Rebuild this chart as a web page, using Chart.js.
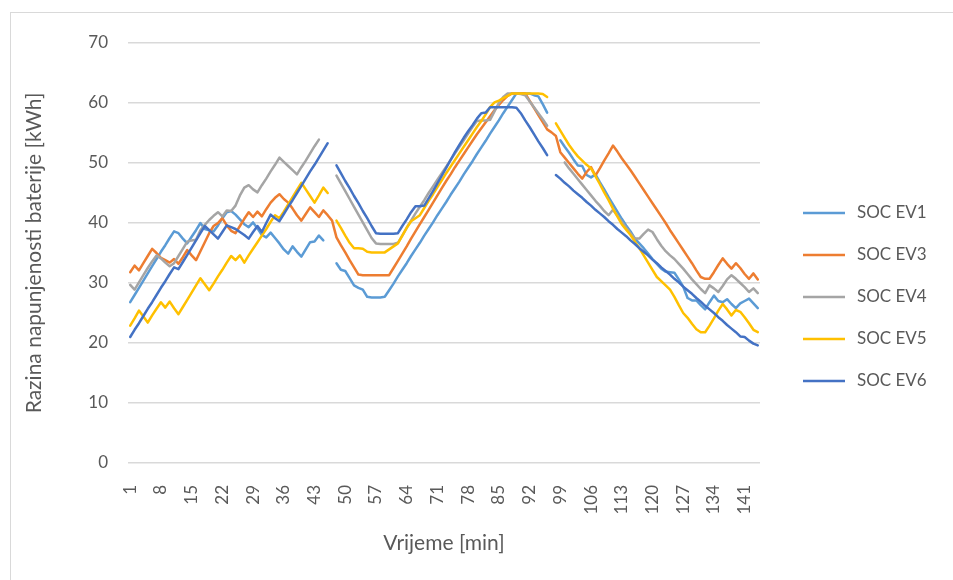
<!DOCTYPE html>
<html>
<head>
<meta charset="utf-8">
<script src="https://cdn.jsdelivr.net/npm/chart.js@4.4.0/dist/chart.umd.min.js"></script>
<style>
  html, body { margin: 0; padding: 0; background: #fff; }
  #wrap { position: relative; width: 953px; height: 580px; overflow: hidden; }
  #frame { position: absolute; left: 10px; top: 12px; width: 960px; height: 600px; border: 1px solid #d9d9d9; }
  canvas { position: absolute; left: 0; top: 0; }
</style>
</head>
<body>
<div id="wrap">
  <div id="frame"></div>
  <canvas id="chart-soc" width="953" height="580"></canvas>
</div>
<script>
// minutes 1..144
var minutes = Array.from({ length: 144 }, (_, i) => String(i + 1));
var tickLabels = ['1', '8', '15', '22', '29', '36', '43', '50', '57', '64', '71',
  '78', '85', '92', '99', '106', '113', '120', '127', '134', '141'];

var socEV1 = [
  26.8, 28.0, 29.2, 30.4, 31.6, 32.8, 34.0, 35.2, 36.3, 37.5,
  38.6, 38.3, 37.4, 36.6, 37.7, 38.8, 40.0, 39.0, 38.8, 38.6,
  39.6, 40.8, 41.8, 42.0, 41.4, 40.6, 39.8, 39.3, 40.1, 39.1,
  38.0, 37.6, 38.4, 37.5, 36.6, 35.6, 34.9, 36.1, 35.2, 34.4,
  35.6, 36.8, 36.9, 37.9, 37.1, null, null, 33.3, 32.2, 32.0,
  30.8, 29.6, 29.2, 28.9, 27.7, 27.6, 27.6, 27.6, 27.7, 28.8,
  29.9, 31.1, 32.2, 33.3, 34.5, 35.6, 36.7, 37.9, 39.0, 40.1,
  41.3, 42.4, 43.5, 44.7, 45.8, 46.9, 48.1, 49.2, 50.3, 51.5,
  52.6, 53.7, 54.9, 56.0, 57.1, 58.3, 59.4, 60.5, 61.6, 61.6,
  61.6, 61.6, 61.3, 61.1, 59.8, 58.4, null, null, 53.8, 52.7,
  51.7, 50.6, 49.6, 49.5, 48.0, 47.6, 48.1, 46.8, 45.6, 44.3,
  43.1, 41.9, 40.7, 39.6, 38.6, 37.4, 36.6, 35.8, 34.9, 34.0,
  33.2, 32.4, 31.9, 31.8, 31.7, 30.6, 29.4, 27.5, 27.1, 27.1,
  26.3, 25.6, 26.8, 27.9, 27.0, 26.8, 27.3, 26.5, 25.8, 26.6,
  27.0, 27.4, 26.6, 25.8
];

var socEV3 = [
  31.8, 32.9, 32.1, 33.3, 34.5, 35.7, 35.0, 34.2, 33.8, 33.4,
  34.0, 33.2, 34.3, 35.5, 34.6, 33.8, 35.3, 36.8, 38.3, 39.5,
  40.0, 40.8, 39.6, 38.7, 38.3, 39.5, 40.7, 41.8, 41.0, 41.9,
  41.1, 42.3, 43.4, 44.2, 44.8, 44.0, 43.4, 42.4, 41.3, 40.4,
  41.5, 42.6, 41.8, 41.0, 42.1, 41.3, 40.4, 37.6, 36.3, 35.1,
  33.8, 32.6, 31.4, 31.3, 31.3, 31.3, 31.3, 31.3, 31.3, 31.3,
  32.5, 33.7, 34.9, 36.1, 37.4, 38.6, 39.8, 41.0, 42.2, 43.4,
  44.6, 45.8, 47.0, 48.1, 49.3, 50.4, 51.5, 52.6, 53.7, 54.8,
  55.8, 56.8, 57.8, 58.8, 59.7, 60.5, 61.2, 61.6, 61.6, 61.6,
  61.6, 60.4, 59.2, 58.0, 56.8, 55.6, 55.1, 54.5, 51.8, 50.9,
  50.0, 49.1, 48.2, 47.4, 48.5, 49.3, 47.9, 49.1, 50.4, 51.6,
  52.9, 51.9, 50.8, 49.8, 48.8, 47.7, 46.6, 45.5, 44.4, 43.3,
  42.2, 41.1, 40.0, 38.8, 37.7, 36.6, 35.5, 34.4, 33.3, 32.1,
  31.0, 30.7, 30.7, 31.8, 33.0, 34.1, 33.2, 32.4, 33.3, 32.5,
  31.5, 30.7, 31.6, 30.6
];

var socEV4 = [
  29.7, 28.9, 30.1, 31.3, 32.5, 33.6, 34.6, 34.1, 33.4, 32.8,
  33.3, 34.5, 35.7, 36.9, 37.1, 37.2, 38.8, 39.7, 40.5, 41.2,
  41.8, 41.1, 42.1, 42.0, 42.9, 44.6, 45.9, 46.3, 45.6, 45.1,
  46.3, 47.4, 48.6, 49.7, 50.9, 50.2, 49.5, 48.8, 48.1, 49.3,
  50.4, 51.6, 52.8, 53.9, null, null, null, 47.9, 46.6, 45.3,
  44.0, 42.7, 41.4, 40.1, 38.8, 37.5, 36.6, 36.5, 36.5, 36.5,
  36.5, 36.7, 37.9, 39.2, 40.4, 41.6, 42.7, 43.8, 45.0, 46.1,
  47.2, 48.3, 49.4, 50.5, 51.6, 52.7, 53.8, 54.9, 56.0, 57.0,
  57.1, 57.1, 57.2, 58.6, 60.0, 61.0, 61.6, 61.6, 61.6, 61.5,
  61.3, 60.3, 59.3, 58.3, 57.3, 56.2, null, null, null, 50.1,
  49.1, 48.2, 47.3, 46.4, 45.5, 44.6, 43.7, 42.9, 42.0, 41.3,
  42.2, 41.2, 40.2, 39.2, 38.3, 37.4, 37.4, 38.2, 38.9, 38.5,
  37.3, 36.2, 35.3, 34.6, 34.0, 33.2, 32.4, 31.5, 30.6, 29.8,
  29.0, 28.3, 29.6, 29.1, 28.5, 29.5, 30.6, 31.3, 30.7, 30.0,
  29.3, 28.5, 29.1, 28.3
];

var socEV5 = [
  22.9, 24.1, 25.4, 24.4, 23.4, 24.6, 25.7, 26.8, 25.9, 26.9,
  25.8, 24.8, 26.0, 27.2, 28.4, 29.6, 30.8, 29.8, 28.8, 29.9,
  31.1, 32.2, 33.4, 34.5, 33.8, 34.6, 33.4, 34.6, 35.7, 36.8,
  37.9, 39.0, 40.2, 41.3, 40.8, 41.9, 43.1, 44.3, 45.5, 46.7,
  45.6, 44.5, 43.4, 44.6, 45.9, 45.0, null, 40.4, 39.2, 37.9,
  36.7, 35.8, 35.8, 35.7, 35.2, 35.1, 35.1, 35.1, 35.1, 35.6,
  36.1, 36.6, 37.9, 39.2, 40.3, 40.8, 41.3, 42.5, 43.7, 44.8,
  46.0, 47.1, 48.3, 49.4, 50.5, 51.6, 52.7, 53.8, 54.9, 56.0,
  57.0, 58.1, 59.3, 60.1, 60.4, 60.8, 61.2, 61.6, 61.6, 61.6,
  61.6, 61.6, 61.6, 61.6, 61.5, 61.0, null, 56.6, 55.4, 54.2,
  53.0, 52.0, 51.1, 50.4, 49.7, 49.1, 47.8, 46.5, 45.1, 43.8,
  42.4, 41.1, 39.8, 38.9, 38.0, 36.9, 35.8, 34.6, 33.4, 32.2,
  31.0, 30.3, 29.6, 28.9, 27.7, 26.3, 25.0, 24.2, 23.2, 22.3,
  21.8, 21.8, 22.9, 24.1, 25.4, 26.5, 25.6, 24.6, 25.5, 25.2,
  24.3, 23.3, 22.2, 21.8
];

var socEV6 = [
  21.0, 22.2, 23.3, 24.5, 25.7, 26.8, 28.0, 29.2, 30.3, 31.5,
  32.6, 32.3, 33.5, 34.7, 35.9, 37.1, 38.3, 39.5, 38.8, 38.1,
  37.4, 38.5, 39.6, 39.3, 39.0, 38.5, 38.0, 37.4, 38.5, 39.5,
  38.5, 40.0, 41.4, 40.8, 40.3, 41.5, 42.7, 43.8, 45.0, 46.2,
  47.4, 48.6, 49.7, 50.9, 52.1, 53.3, null, 49.6, 48.3, 47.0,
  45.8, 44.5, 43.3, 42.0, 40.8, 39.5, 38.3, 38.2, 38.2, 38.2,
  38.2, 38.3, 39.5, 40.6, 41.8, 42.8, 42.8, 42.9, 44.1, 45.3,
  46.6, 47.9, 49.2, 50.5, 51.8, 53.0, 54.2, 55.3, 56.3, 57.4,
  58.3, 58.4, 59.3, 59.3, 59.3, 59.3, 59.3, 59.3, 59.2, 58.3,
  57.1, 56.0, 54.8, 53.6, 52.5, 51.3, null, 48.0, 47.4, 46.7,
  46.1, 45.4, 44.8, 44.2, 43.5, 42.9, 42.2, 41.6, 41.0, 40.3,
  39.7, 39.0, 38.4, 37.8, 37.1, 36.5, 35.8, 35.2, 34.6, 33.9,
  33.3, 32.6, 32.0, 31.4, 30.7, 30.1, 29.4, 28.8, 28.2, 27.5,
  26.9, 26.2, 25.6, 25.0, 24.3, 23.7, 23.0, 22.4, 21.8, 21.1,
  21.0, 20.4, 19.9, 19.6
];

var textColor = '#595959';
var font = { family: 'Lato', size: 17 };
var titleFont = { family: 'Lato', size: 21 };

// legend drawn by hand on the right side
var sideLegend = {
  id: 'sideLegend',
  afterDraw: function (chart, _args, opts) {
    var ctx = chart.ctx;
    ctx.save();
    chart.data.datasets.forEach((ds, i) => {
      var y = opts.top + i * opts.step;
      ctx.strokeStyle = ds.borderColor;
      ctx.lineWidth = 2.5;
      ctx.beginPath();
      ctx.moveTo(opts.x, y);
      ctx.lineTo(opts.x + opts.lineLength, y);
      ctx.stroke();
      ctx.fillStyle = textColor;
      ctx.font = font.size + 'px ' + font.family;
      ctx.textBaseline = 'middle';
      ctx.fillText(ds.label, opts.x + opts.lineLength + 12, y);
    });
    ctx.restore();
  },
};

var ctx = document.getElementById('chart-soc').getContext('2d');
var chart = new Chart(ctx, {
  type: 'line',
  plugins: [sideLegend],
  data: {
    labels: minutes,
    datasets: [
      { label: 'SOC EV1', data: socEV1, borderColor: '#5B9BD5', order: 5 },
      { label: 'SOC EV3', data: socEV3, borderColor: '#ED7D31', order: 4 },
      { label: 'SOC EV4', data: socEV4, borderColor: '#A5A5A5', order: 3 },
      { label: 'SOC EV5', data: socEV5, borderColor: '#FFC000', order: 2 },
      { label: 'SOC EV6', data: socEV6, borderColor: '#4472C4', order: 1 },
    ],
  },
  options: {
    responsive: false,
    animation: false,
    devicePixelRatio: 1,
    layout: { padding: { top: 43, right: 193, bottom: 0, left: 0 } },
    elements: {
      point: { radius: 0 },
      line: { borderWidth: 2.5, tension: 0, borderJoinStyle: 'round', borderCapStyle: 'round' },
    },
    plugins: {
      legend: { display: false },
      tooltip: { enabled: false },
      sideLegend: { x: 803, top: 213, step: 42, lineLength: 42 },
    },
    scales: {
      x: {
        offset: true,
        grid: { display: false },
        border: { display: false },
        ticks: {
          autoSkip: false,
          minRotation: 90,
          maxRotation: 90,
          padding: 14,
          color: textColor,
          font: font,
          callback: function (value) {
            var l = this.getLabelForValue(value);
            return tickLabels.includes(l) ? l : '';
          },
        },
        title: { display: true, text: 'Vrijeme [min]', color: textColor, font: titleFont, padding: { top: 0, bottom: 24 } },
        afterFit: function (scale) { scale.height = 117; },
      },
      y: {
        min: 0,
        max: 70,
        ticks: { stepSize: 10, padding: 20, color: textColor, font: font },
        grid: { color: '#d9d9d9', lineWidth: 1.5, drawTicks: false },
        border: { display: false },
        title: { display: true, text: 'Razina napunjenosti baterije [kWh]', color: textColor, font: titleFont, padding: { top: 22, bottom: 0 } },
        afterFit: function (scale) { scale.width = 128; },
      },
    },
  },
});
</script>
</body>
</html>
